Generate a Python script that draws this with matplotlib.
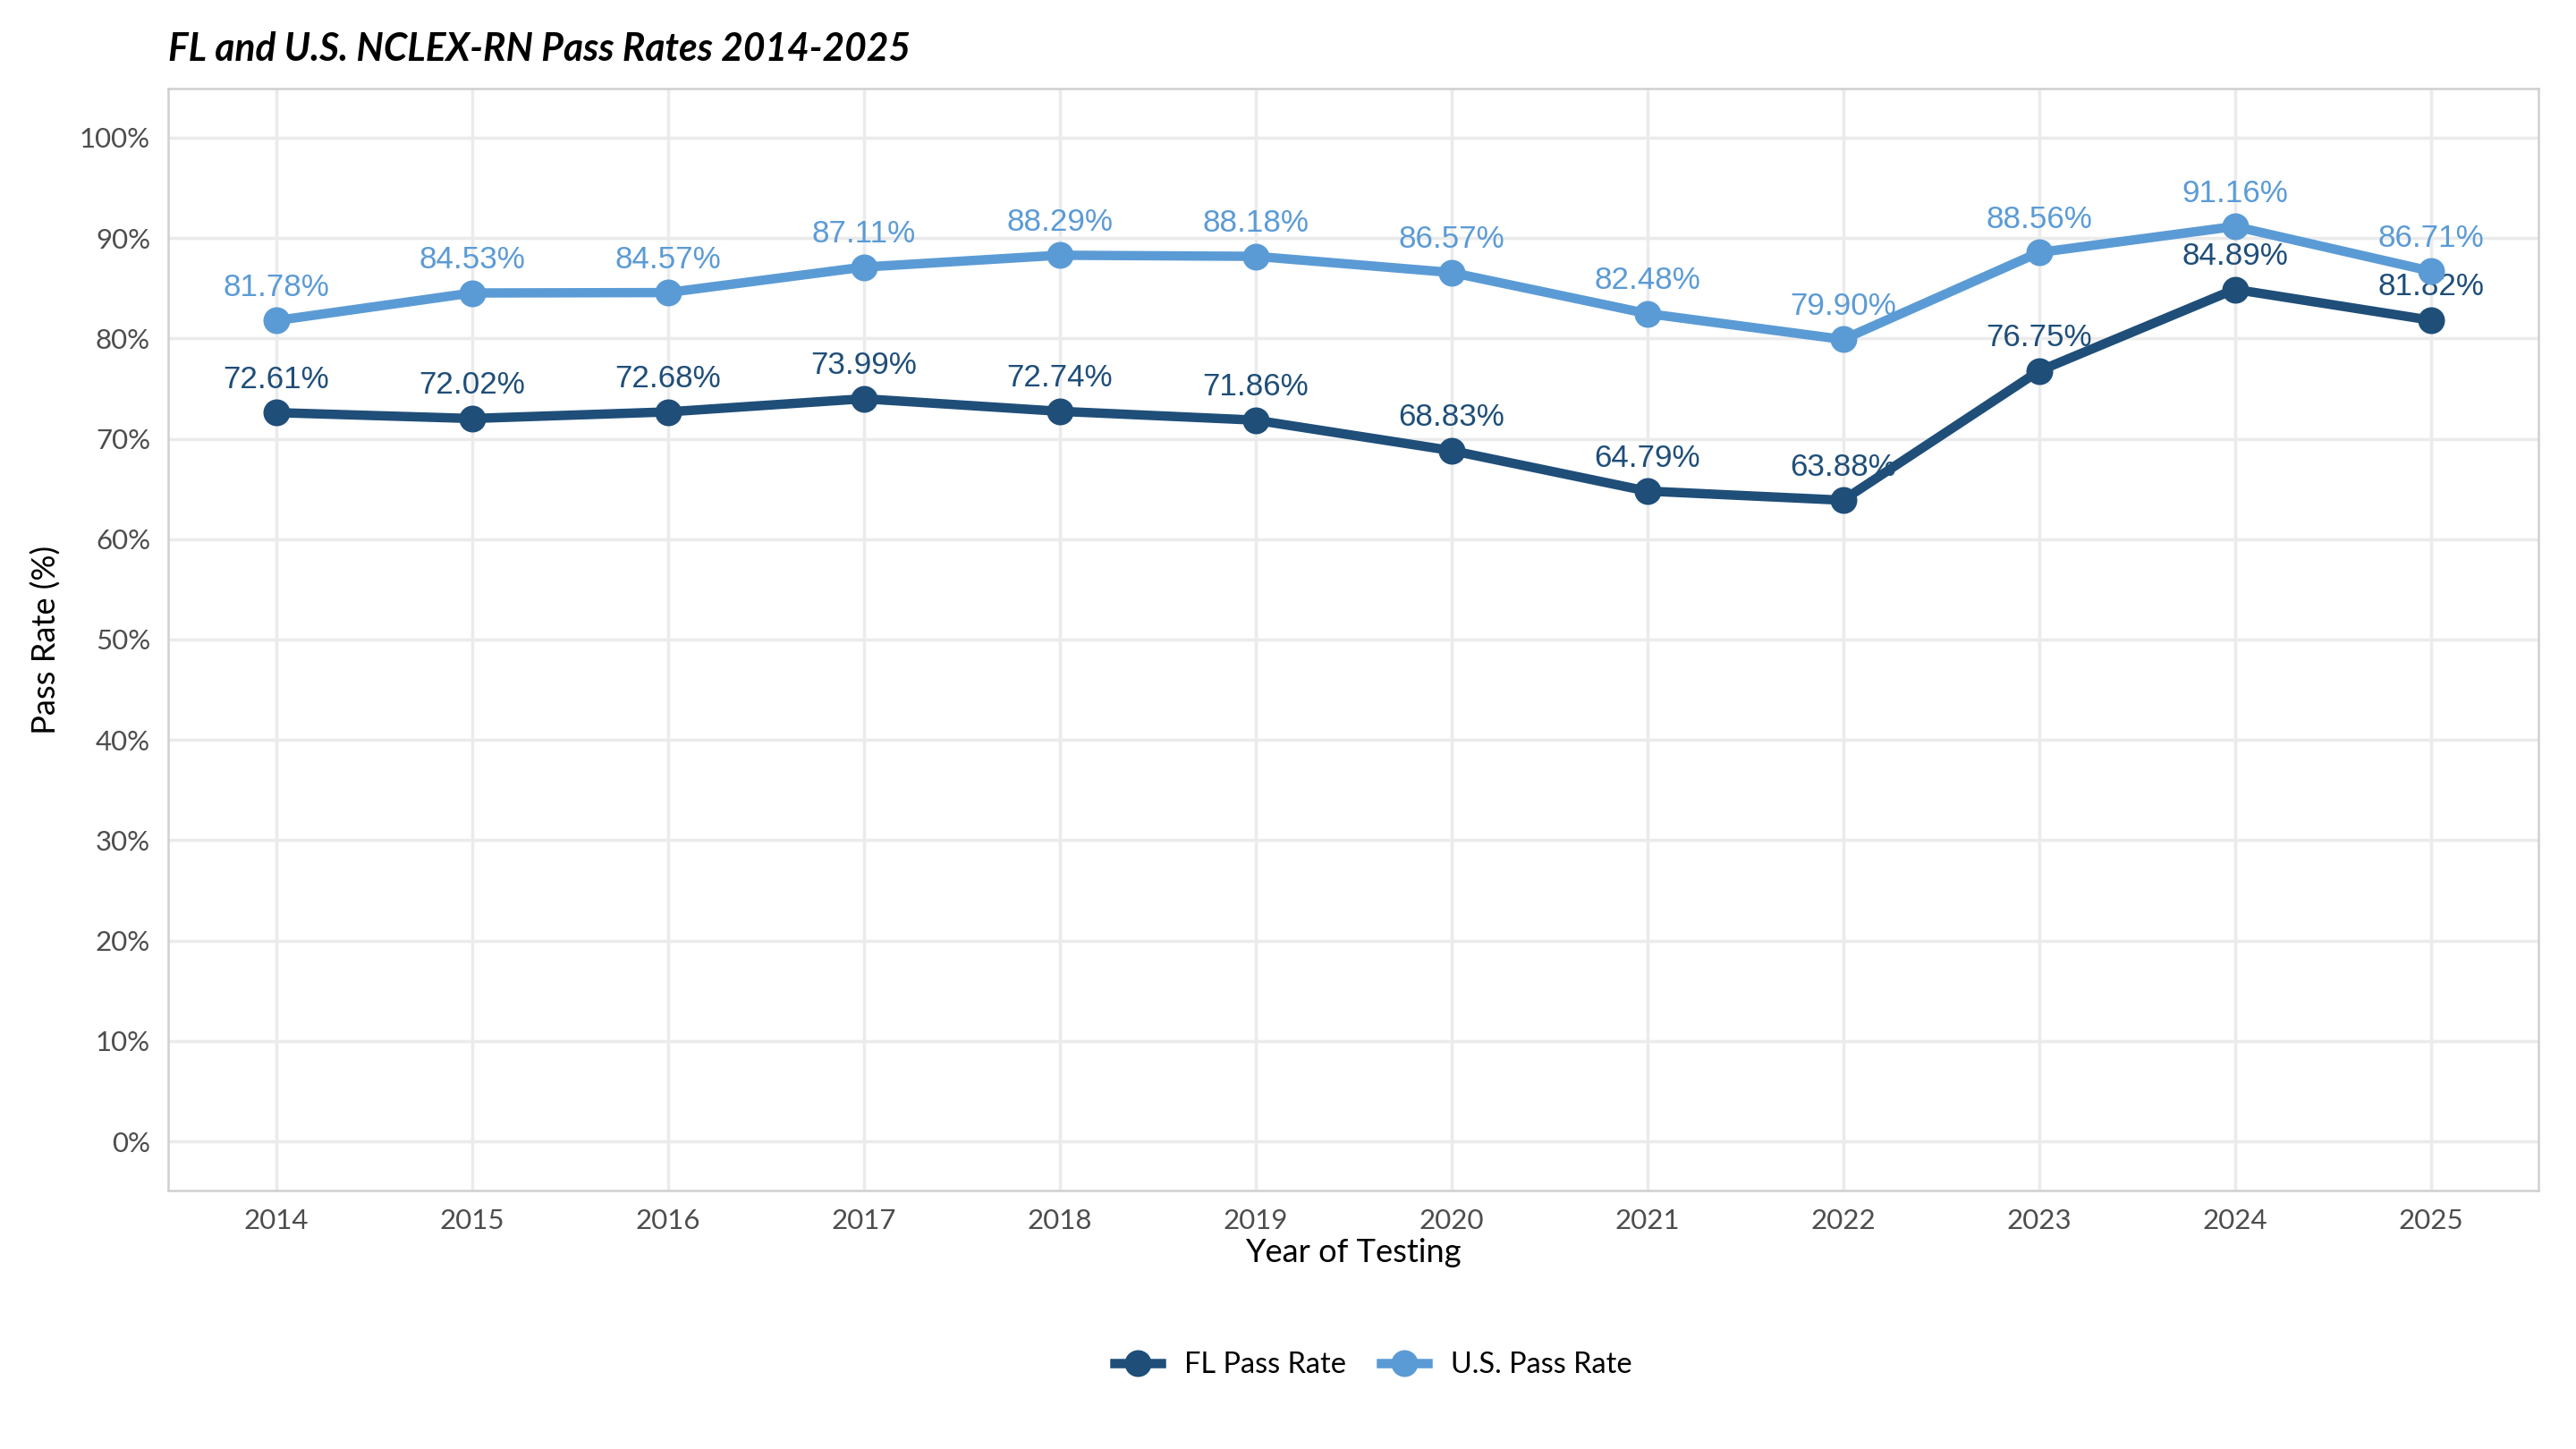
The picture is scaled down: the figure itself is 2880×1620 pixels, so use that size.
import matplotlib.pyplot as plt
from matplotlib.lines import Line2D
from matplotlib.ticker import FuncFormatter

years = [2014, 2015, 2016, 2017, 2018, 2019, 2020, 2021, 2022, 2023, 2024, 2025]
fl_rate = [72.61, 72.02, 72.68, 73.99, 72.74, 71.86, 68.83, 64.79, 63.88, 76.75, 84.89, 81.82]
us_rate = [81.78, 84.53, 84.57, 87.11, 88.29, 88.18, 86.57, 82.48, 79.90, 88.56, 91.16, 86.71]
y_ticks = list(range(0, 101, 10))

FL_COLOR = "#1f4e79"
US_COLOR = "#5b9bd5"
UI_FONT = ["Lato", "DejaVu Sans"]
LABEL_FONT = ["Liberation Sans Narrow", "Liberation Sans", "DejaVu Sans"]

plt.rcParams["font.family"] = UI_FONT

fig = plt.figure(figsize=(16, 9), dpi=180)
ax = fig.add_axes([0.0653, 0.1784, 0.9201, 0.7605])

for vals, color, name in [(us_rate, US_COLOR, "U.S. Pass Rate"),
                          (fl_rate, FL_COLOR, "FL Pass Rate")]:
    ax.plot(years, vals, color=color, lw=4.2, marker="o", ms=11,
            solid_capstyle="butt", zorder=4)
    for x, v in zip(years, vals):
        ax.text(x, v + 3.3, f"{v:.2f}%", color=color, ha="center",
                va="center", fontsize=14, family=LABEL_FONT, zorder=3)

ax.set_xlim(2013.45, 2025.55)
ax.set_ylim(-4.9, 104.9)
ax.set_xticks(years)
ax.set_yticks(y_ticks)
ax.yaxis.set_major_formatter(FuncFormatter(lambda v, p: f"{v:.0f}%"))
ax.grid(True, color="#ebebeb", lw=1.4)
ax.set_axisbelow(True)
ax.tick_params(length=0, labelsize=12.5, labelcolor="#4d4d4d", pad=8)
for s in ax.spines.values():
    s.set_color("#d0d0d0")
    s.set_linewidth(1.0)

ax.set_xlabel("Year of Testing", fontsize=14.5, labelpad=2)
ax.set_ylabel("Pass Rate (%)", fontsize=14.5, labelpad=8)
fig.text(0.0653, 0.966, "FL and U.S. NCLEX-RN Pass Rates 2014-2025",
         fontsize=17, fontweight="bold", fontstyle="italic", va="center")

handles = [Line2D([], [], color=FL_COLOR, lw=4.2, marker="o", ms=11),
           Line2D([], [], color=US_COLOR, lw=4.2, marker="o", ms=11)]
fig.legend(handles, ["FL Pass Rate", "U.S. Pass Rate"], loc="center",
           bbox_to_anchor=(0.533, 0.058), ncol=2, frameon=False,
           fontsize=13, handlelength=1.6, columnspacing=1.2, handletextpad=0.8)

fig.savefig("out.png", dpi=180)
